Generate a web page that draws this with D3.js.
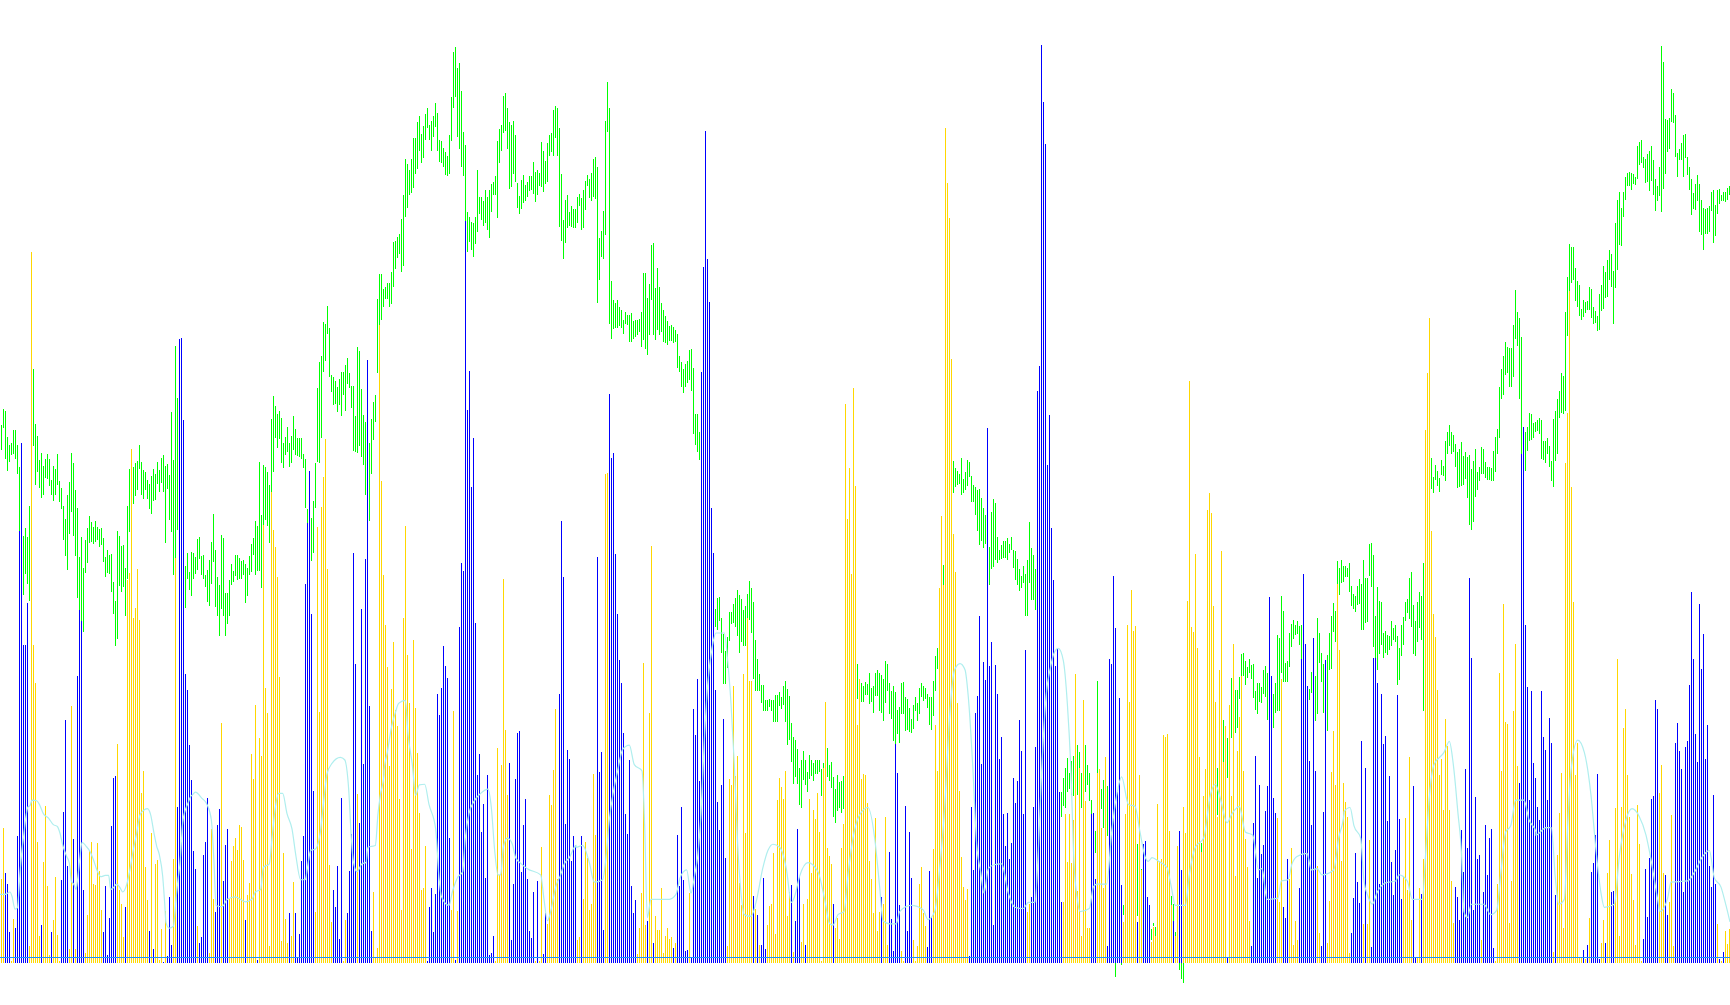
<!DOCTYPE html>
<html><head><meta charset="utf-8">
<script src="https://cdn.jsdelivr.net/npm/d3@7/dist/d3.min.js"></script>
<style>html,body{margin:0;padding:0;background:#fff;overflow:hidden}svg{display:block}</style>
</head><body><svg id="c" width="1730" height="1005"></svg>
<script>
// Volume-style histogram tops. Positive: blue bar, negative: gold bar.
const vol1=[-1387,-1304,1377,1395,1473,-1520,-1452,1467,1317,818,675,1005,1005,936,-1497,-363,-1004,-1067,-1326,-1480,1462,-1359,-1268,-1399,-1511,1473,-1454,-1384,-1478,-1520,1388,1277,1127,1366,-1501,-1104,1321,-1501,1055,948,965,1405,-1508,-1446,-1341,-1326,-1395,-1397,-1328,-1374,-1437,1473,1398,1511,1450,1300,1222,1219,-1166,-1405,-1428,-1482,1433,-898,-887,-684,-960,-944,-880,-963,-1246,-1210,-1367,-1421,1472,-1312,1501,-1362,-1356,-1519,-1468,1522,-1439,1513,1416,1495,-1354,-862,1269,505,503,637,1052,1078,1168,1225];
const vol2=[1341,1370,-1464,1491,1482,1347,1326,1254,-1508,-1305,-1420,1441,1298,1272,-1132,1390,1331,1305,-1420,-1357,-1333,-1320,-1340,-1298,-1302,-1356,1454,-1413,-1393,-1183,-1223,-1102,1519,-1156,-1186,-808,-1075,-1116,-1496,-755,-817,-844,-893,-1057,-1488,-1344,-1452,-1491,1442,-1480,-1392,1442,1514,1477,1358,1316,905,805,720,954,1243,-1441,-812,-1114,-779,-730,-668,-880,-1364,-1457,1405,1432,1365,1485,1254,-1520,-1454,1442,1374,1314,854,1036,-1248,1295,946,1199,864,539,1104,1472,-1408,-1515,-1500,-482,-737,-890];
const vol3=[-972,-1040,-1202,-1076,-1000,-1110,-1137,-1256,-1437,-960,-810,-1021,-1100,-1338,-996,-1107,-1181,-1279,-1405,-1401,-1333,1520,1432,1401,1473,1411,1085,1119,1075,1006,1039,1058,1320,-1437,-1112,1519,-1439,975,871,884,312,621,557,746,666,969,1217,1183,1310,1264,1385,1217,1511,1508,1480,-1520,-1173,-1380,-1200,-897,-1143,-1250,1197,1486,1395,1223,1148,1145,1375,1298,1256,1387,1472,1483,1408,-1520,1390,-1520,-1334,1509,1443,-1460,-1250,-1266,-1209,-1109,-1387,1085,802,893,1297,1176,1190,1357,1316,1332];
const vol4=[-1486,-1481,1316,-1419,-1326,-1352,-1437,-1428,-1215,-1315,861,1212,1179,1470,-726,-724,595,699,691,856,954,1029,1067,1148,1281,1313,1192,1398,1443,1421,-1509,-1467,-1410,-1034,-1462,1455,-1116,-843,1491,-1447,-1470,-1470,-1401,-1508,-1480,-1467,-1485,-1481,1499,-1491,1315,1398,1269,1388,1504,1503,-1410,1515,1109,1151,1060,1227,559,387,165,374,444,781,854,1078,1261,1307,1233,1125,1352,-1496,-1223,-1233,-1071,-1218,-1186,-1393,-1430,-1052,-1312,-960,-1063,-1063,1414,-1436,1445,-1494,1494,1385,1501,-1462];
const vol5=[-1431,-1427,-1344,-1477,-1258,-1222,-1236,-1256,-1210,-1447,-1408,1396,-1506,1455,1305,1384,-1490,-1428,1494,-1419,-1256,-1377,-1274,-1289,-1246,-1310,-1520,-1206,-1098,-1336,-1349,-1362,1428,-1467,-1451,-1485,-1336,-1297,-611,-799,-715,-889,-585,-745,-1135,-1060,-1223,-1216,-1217,-1262,-1357,-1386,-1443,-1287,-1472,-1440,1416,-1428,-1285,-1495,1343,1452,1504,1166,1214,1429,-1505,-1520,1267,1471,1310,1385,-1486,-1520,-1497,-1395,-1367,-1442,-1463,1498,1374,1449,-1338,-1136,-1210,-912,-794,-906,-160,-250,-307,-537,-823,-885,-1100,-1243];
const vol6=[-1351,-1400,-1421,-1403,1512,1269,1372,1115,1088,957,1199,1032,1062,650,1039,1000,1462,1037,1085,1191,1155,1281,1333,1279,1354,1328,1222,1262,1226,1127,1178,1281,1013,-1440,-1428,1416,1269,1171,590,549,24,118,186,710,629,813,898,1039,1011,1245,1424,-1424,-1281,-1359,-1281,-1361,-1291,-1052,-1407,-1206,-1480,-1094,-1259,-1467,-1467,1281,1279,1387,-1214,-1207,-1303,-1401,-1187,1497,1027,1036,892,977,1245,1091,1396,-1457,-1281,-972,-1098,-915,-982,-973,1457,-1217,-1372,1329,1325,1416,1429,-1490];
const vol7=[-1465,-1480,-1264,-1357,-1354,-1151,-1155,-1150,-1308,-1430,1455,-1480,-1333,1308,1372,-1269,-1312,-933,-573,-975,-983,-856,-1009,-1187,-1343,-1251,-1207,-784,-756,-789,-941,-1098,-1285,-1045,-851,-1196,-1137,1515,-1103,-1251,-1003,-1382,-1178,-1122,-1056,-1210,-1321,-1367,-1455,1496,1295,1186,1385,1233,1346,1331,1276,1235,926,1055,1254,1279,-1287,-1424,-1060,1432,1450,1354,-1387,-1336,-1494,-1455,-1486,1401,1027,889,1003,1071,1194,1298,993,1210,-1365,-1475,1496,1277,1029,-1491,-1423,-1212,-1145,-1233,-905,-1013,-1357,-1230];
const vol8=[-1261,-1285,-1507,1475,1418,1344,1392,1426,1161,-1460,1205,-1460,-1323,1498,1026,1026,1067,1395,1085,1166,1153,1292,1218,1359,1413,1339,1086,1289,1419,-1383,-1287,-1405,-1187,-1453,1235,1515,-1515,-1401,1411,-1354,-653,-560,-470,-818,-954,-991,-1078,-1217,-1190,-1274,-1125,-1170,-1274,-1390,-1459,1400,1416,1454,1307,1375,1207,1336,895,1026,1438,1253,1354,1347,-1486,1408,1298,1380,1320,1305,1499,-1520,-1395,-1050,-1210,-938,-1130,-1133,-1459,-1390,-1112,-1003,-1202,1230,693,649,972,1073,1258,1079,1197,1222];
const vol9=[1269,1290,1080,1155,1176,1258,1124,1165,-1506,1413,-1347,-1279,-1214,-1467,-707,-626,-426,-746,-934,-1217,-1165,-1514,-1514,1503,-1518,1494,-1450,1375,1361,1315,1215,1518,-1491,-1454,1491,-1377,-1323,1408,1406,-1271,-1027,-1480,-1269,-1140,-1109,-1217,-1285,-1379,-1421,-1494,-1266,-1330,-1520,1485,1370,1449,1352,1256,1251,1094,1109,-1247,-1200,-1377,1381,1445,-1424,-1282,-1497,1165,1132,1178,1207,1408,1171,1161,1070,918,1027,1150,1196,938,1044,987,1190,1135,1365,1400,1249,1395,-1460,1518,-1520,1506,-1472,-1493,-1468];

// Green high/low pairs per bar (0,0 where the picture hides them).
const green1=[645,686,619,650,622,700,665,720,678,706,675,695,653,693,653,700,678,725,714,818,0,0,827,923,813,889,828,905,778,933,0,0,554,680,643,743,663,722,702,748,691,764,712,759,700,732,692,733,700,745,735,759,712,769,717,759,692,743,737,771,748,782,777,833,798,859,759,882,738,823,691,787,707,826,751,859,781,927,861,949,828,965,879,983,833,887,813,870,794,838,803,836,812,839,802,836,812,833,815,844,813,841,830,869,861,893,849,887,857,888,856,918,901,954,932,1007,818,994,826,908,843,918,841,910,878,958,777,896,717,820,684,735,714,774,707,761,704,751,678,717,705,759,719,766,722,751,735,766,741,782,728,790,717,769,725,767,705,741,719,754,699,740,694,754,712,838,709,750,727,800,624,820,702,890,516,862,601,817,0,0,0,0,0,0,875,944,854,896,885,914,852,924];
const green2=[855,896,861,888,832,882,828,864,860,890,857,897,890,910,882,934,866,941,836,905,791,869,850,943,893,957,906,990,825,946,830,957,920,990,920,970,898,957,872,906,884,902,857,892,857,899,862,897,868,897,866,891,873,936,878,924,860,890,840,885,829,858,802,890,810,884,706,884,792,911,711,808,713,800,722,810,743,838,635,755,598,722,614,666,627,682,623,668,633,708,675,716,665,695,648,690,675,714,663,708,630,686,652,694,667,696,667,698,666,700,693,716,701,780,782,805,800,860,797,868,769,855,707,780,585,705,542,708,533,667,477,559,480,540,451,497,487,566,564,591,566,612,573,611,583,624,570,613,559,630,559,597,548,622,536,578,560,585,581,617,581,688,630,690,518,691,524,680,587,698,629,710,640,760,607,700,675,802,635,725,607,670,596,640,439,560,399,482,399,473,423,452];
const green3=[420,440,414,440,413,453,395,448,347,420,345,390,338,372,333,366,309,395,269,385,211,305,219,290,228,270,210,267,176,258,177,235,150,227,141,198,170,218,157,209,137,179,127,160,155,180,149,197,141,175,119,158,135,197,180,215,181,218,192,224,200,237,206,238,171,236,109,182,36,127,28,109,62,175,54,195,99,224,167,238,188,312,297,362,306,347,314,360,316,370,306,350,229,330,272,301,272,310,279,320,261,315,272,326,262,339,251,297,249,270,238,270,181,307,161,217,155,198,108,168,103,165,127,195,150,260,155,257,148,235,171,248,250,290,271,300,245,292,237,282,253,280,248,273,238,263,238,262,216,268,232,281,228,270,234,254,183,256,197,265,214,252,184,248,171,206,168,200,131,206,124,177,127,206,160,322,235,345,310,374,277,348,269,324,297,320,287,322,292,324,292,324];
const green4=[272,316,268,288,274,327,262,323,247,294,237,255,243,274,234,280,211,272,207,276,224,446,340,408,328,370,296,374,148,335,85,167,127,480,410,505,441,488,446,487,441,487,452,484,458,487,474,497,461,481,466,482,466,510,462,510,475,505,474,502,474,498,472,493,460,518,397,507,397,521,438,531,415,499,351,441,348,499,422,507,388,490,420,498,446,493,457,510,467,512,476,514,483,508,482,508,485,512,490,510,497,552,532,558,542,583,553,593,545,583,541,576,523,571,521,590,552,660,627,678,628,690,656,703,0,0,0,0,0,0,0,0,0,0,0,0,0,0,945,975,928,980,926,965,961,1018,987,1068,1015,1068,992,1042,951,998,951,970,937,968,928,975,915,990,923,1018,930,1000,948,1007,941,1007,921,1000,900,964,912,985,934,1060,996,1080,1027,1080,1052,1080,1070,1100,1070,1112,1095,1113,1094,1112];
const green5=[1092,1106,1095,1112,1094,1131,1086,1131,1086,1131,1081,1105,1089,1109,1071,1103,1064,1130,1076,1168,1088,1160,1132,1196,1155,1231,1160,1220,1175,1232,1205,1266,1193,1271,1178,1225,1193,1234,1212,1245,1184,1224,1192,1218,1198,1226,1192,1216,1192,1215,1192,1212,1207,1252,1197,1235,0,0,1172,1220,1200,1226,1196,1238,1220,1285,1240,1295,1217,1276,1228,1271,1227,1279,1219,1272,0,0,0,0,0,0,0,0,0,0,0,0,1035,1093,0,0,1067,1098,1071,1098,1065,1086,1068,1086,1051,1101,1075,1098,1071,1116,1050,1088,1045,1088,1050,1112,1053,1115,1060,1129,1031,1100,1035,1080,1067,1118,1080,1125,1072,1162,1082,1184,1110,1150,1106,1165,1067,1118,1065,1118,1090,1145,1093,1143,1108,1147,1125,1148,1102,1142,1089,1113,1100,1129,1075,1118,1067,1090,1072,1096,1074,1092,1085,1108,1090,1135,1090,1143,1063,1120,1022,1080,1010,1044,0,0,0,0,874,912,0,0,0,0,0,0,0,0,704,756,715,746,720,744,725,742];
const green6=[699,759,733,757,722,752,702,745,706,730,729,771,744,771,747,792,751,818,750,841,764,834,781,846,792,840,0,0,845,907,787,880,766,877,773,866,828,870,849,866,842,864,835,862,835,862,830,865,840,855,828,850,849,878,851,898,864,906,881,916,892,912,875,903,888,957,866,957,803,903,846,931,857,931,880,948,0,0,0,0,0,0,0,0,0,0,0,0,0,0,0,0,0,0,0,0,0,0,0,0,1245,1285,1221,1268,1206,1270,1189,1245,1213,1240,1194,1250,1186,1252,0,0,1168,1250,1180,1236,1214,1270,1201,1245,1168,1245,1200,1233,1214,1260,1258,1290,0,0,1308,1345,1063,1215,0,0,1240,1272,1225,1303,0,0,1235,1316,0,0,0,0,0,0,1520,1547,0,0,0,0,1515,1527,1429,1445,0,0,0,0,0,0,0,0,0,0,0,0,1329,1447,0,0,1371,1425,0,0,0,0,0,0,0,0,1468,1487];
const green7=[1459,1463,1465,1480,0,0,0,0,0,0,0,0,0,0,0,0,0,0,1414,1430,1428,1455,1473,1508,0,0,1524,1536,1524,1550,1524,1557,0,0,0,0,0,0,0,0,0,0,0,0,0,0,0,0,1328,1343,0,0,0,0,0,0,0,0,0,0,0,0,0,0,1205,1283,0,0,0,0,1127,1196,0,0,1156,1222,0,0,1058,1156,0,0,1078,1148,1078,1140,1057,1092,1019,1058,1018,1055,1030,1070,1040,1058,1027,1050,1037,1060,1036,1091,1080,1110,1067,1118,1066,1098,1073,1100,1045,1085,1039,1090,1050,1127,0,0,1060,1100,1085,1140,1067,1115,988,1113,993,1113,924,1050,949,1065,1034,1065,1031,1065,985,1040,970,1008,963,995,972,988,965,987,973,1005,972,1027,0,0,0,0,0,0,1077,1095,1049,1083,0,0,1055,1128,961,1118,985,1034,1017,1065,1036,1116,0,0,1021,1145,985,1045,957,1043,936,983,949,1000,867,906,879,923,866,903,875,902];
const green8=[875,893,879,893,871,918,908,941,921,945,924,950,909,940,896,938,905,980,866,980,895,968,895,967,840,892,838,910,857,1008,957,1026,910,1045,933,1020,934,1005,985,1026,982,1018,989,1021,990,1012,965,1007,977,997,972,1000,990,1070,1010,1062,972,1023,959,1005,934,965,930,952,895,962,885,975,939,1020,965,1022,934,1000,918,977,925,996,871,1113,0,0,0,0,0,0,699,750,730,756,710,735,720,745,732,755,702,727,712,728,671,737,656,693,645,680,657,692,661,690,676,713,689,748,684,746,673,745,696,743,689,733,698,764,694,808,717,816,704,804,684,762,722,752,714,737,681,725,684,725,706,732,713,735,714,735,716,736,688,736,665,722,652,693,583,667,553,603,532,597,510,563,518,560,519,583,520,583,482,567,425,505,460,516,471,603,501,692,0,0,656,720,648,688,626,672,628,670,642,667,640,657];
const green9=[637,655,634,660,637,700,671,702,671,707,666,692,679,714,704,736,635,747,622,704,603,692,590,633,560,625,565,628,460,622,403,500,350,426,354,414,354,409,389,443,410,452,416,467,455,473,441,468,445,463,443,458,420,458,423,470,452,480,459,478,467,492,432,490,416,459,385,456,395,437,376,436,360,408,366,420,393,480,316,421,278,392,265,352,291,353,264,306,240,278,234,255,232,254,234,261,235,252,240,253,189,244,183,221,180,217,207,226,210,250,203,248,198,263,189,246,212,269,243,296,255,279,224,271,26,298,52,260,145,235,147,200,143,195,96,150,103,152,139,208,201,240,194,212,185,212,171,240,170,209,207,237,224,262,244,302,267,292,252,294,237,280,252,330,278,335,290,360,292,333,290,334,288,330,264,296,262,348,286,336,261,301,260,285,270,280,264,280,265,281,258,278,255,270];

// Pale line samples per panel: position inside the panel, value.
const turq1=[0,1412,15,1412,30,1408,36,1415,45,1436,52,1434,60,1377,66,1339,72,1312,78,1284,84,1269,90,1267,96,1258,110,1259,120,1267,130,1280,145,1287,160,1298,172,1301,180,1312,188,1331,200,1350,208,1361,214,1390,222,1396,228,1404,234,1382,240,1350,246,1327,258,1333,270,1342,280,1355,292,1374,302,1383,316,1381,326,1381,332,1404,340,1401,350,1395,360,1401,368,1408,380,1396,390,1371,400,1339,410,1312,420,1282,430,1275,442,1272,452,1282,462,1312,470,1333,478,1347,488,1382,494,1426,498,1458,508,1467,520,1464,528,1420,534,1388,540,1361,548,1295,556,1274,564,1263,572,1252];
const turq2=[0,1250,10,1245,30,1255,45,1265,58,1290,66,1360,72,1430,90,1432,106,1420,130,1416,160,1424,180,1420,190,1408,206,1404,214,1368,232,1362,240,1320,250,1270,260,1247,272,1247,285,1280,300,1305,312,1350,326,1388,340,1388,346,1370,356,1340,370,1338,385,1310,395,1260,405,1215,420,1198,445,1188,458,1192,470,1240,478,1320,484,1358,495,1375,510,1362,522,1360,528,1335,550,1332,558,1280,565,1250,576,1217];
const turq3=[0,1210,10,1180,22,1140,34,1115,44,1100,64,1095,72,1150,85,1200,95,1250,106,1233,122,1232,135,1265,155,1305,165,1385,172,1415,195,1430,205,1408,220,1385,236,1375,244,1320,255,1280,270,1260,290,1247,312,1240,322,1270,332,1340,342,1380,350,1380,358,1335,370,1320,385,1330,395,1352,412,1362,430,1370,470,1380,480,1420,490,1455,500,1440,515,1400,530,1380,540,1363,556,1352,576,1332];
const turq4=[0,1335,20,1332,40,1360,55,1392,80,1388,92,1340,100,1290,112,1245,125,1210,140,1175,160,1168,175,1200,198,1210,206,1300,214,1450,225,1420,280,1420,300,1412,312,1385,332,1372,345,1410,356,1380,365,1350,375,1280,385,1160,395,1070,408,1010,420,985,445,985,455,1030,465,1100,475,1200,485,1330,495,1410,505,1445,525,1448,540,1425,560,1370,576,1340];
const turq5=[0,1340,15,1330,35,1335,55,1370,70,1425,80,1415,95,1382,120,1360,150,1375,170,1420,185,1460,195,1462,210,1445,228,1440,240,1380,255,1320,272,1285,300,1270,320,1320,335,1400,345,1455,365,1460,385,1460,395,1440,430,1430,465,1437,480,1453,500,1440,515,1370,530,1270,545,1120,560,1045,576,1035];
const turq6=[0,1035,15,1045,25,1090,38,1200,50,1330,62,1375,72,1410,85,1370,100,1364,125,1362,145,1410,165,1433,190,1435,205,1425,225,1425,235,1340,245,1210,258,1090,272,1040,282,1018,295,1010,310,1030,322,1100,332,1200,342,1360,352,1420,360,1440,388,1435,400,1400,410,1395,440,1395,455,1310,470,1250,485,1220,505,1265,525,1268,540,1310,555,1350,565,1358,576,1352];
const turq7=[0,1352,20,1358,45,1368,58,1400,70,1430,100,1430,112,1380,130,1335,155,1320,175,1250,190,1232,205,1255,225,1295,240,1280,262,1268,280,1310,302,1315,320,1372,330,1370,345,1420,378,1418,388,1390,408,1388,420,1362,435,1350,465,1345,478,1372,495,1370,510,1380,545,1372,560,1320,576,1280];
const turq8=[0,1277,18,1270,30,1300,50,1320,60,1390,72,1415,85,1428,100,1408,125,1393,155,1390,165,1380,190,1390,205,1420,235,1420,245,1345,255,1260,270,1200,300,1180,316,1162,328,1200,342,1280,352,1340,360,1440,370,1450,382,1428,420,1428,440,1445,458,1438,470,1380,485,1310,500,1300,515,1258,540,1258,555,1290,576,1310];
const turq9=[0,1315,30,1303,46,1303,58,1385,68,1428,85,1420,95,1300,105,1210,125,1160,145,1180,165,1250,180,1340,195,1410,205,1433,235,1428,250,1350,270,1290,288,1272,310,1285,330,1315,345,1355,365,1420,372,1440,395,1418,405,1392,455,1390,475,1376,500,1350,520,1340,535,1385,555,1400,570,1430,582,1457];

const volPanels=[vol1,vol2,vol3,vol4,vol5,vol6,vol7,vol8,vol9];
const greenPanels=[green1,green2,green3,green4,green5,green6,green7,green8,green9];
const turqPanels=[turq1,turq2,turq3,turq4,turq5,turq6,turq7,turq8,turq9];
const barsPerPanel=96, baseline=1524, zeroLine=1515;

const vols=volPanels.flatMap((p,c)=>p.map((v,j)=>({i:c*barsPerPanel+j,top:Math.abs(v),up:v>0})));
const greens=greenPanels.flatMap((p,c)=>d3.range(0,p.length,2).map(j=>({i:c*barsPerPanel+j/2,hi:p[j],lo:p[j+1]}))).filter(d=>d.hi>0);
const turqs=turqPanels.flatMap((p,c)=>d3.range(0,p.length,2).map(j=>({b:c*barsPerPanel+p[j]/6,v:p[j+1]})));

const x=d3.scaleLinear().domain([0,865]).range([1,1731]);
const y=d3.scaleLinear().domain([0,baseline]).range([30,963]);
const svg=d3.select('#c');
const BLUE='#0000ff',GOLD='#ffd700',GREEN='#00ff00',ZERO='#1e90ff',TURQ='#afeeee';

svg.append('g').attr('shape-rendering','crispEdges').selectAll('rect').data(greens).join('rect')
  .attr('x',d=>x(d.i)).attr('width',1)
  .attr('y',d=>Math.round(y(d.hi))).attr('height',d=>Math.max(1,Math.round(y(d.lo))-Math.round(y(d.hi))))
  .attr('fill',GREEN);
svg.append('g').attr('shape-rendering','crispEdges').selectAll('rect').data(vols).join('rect')
  .attr('x',d=>x(d.i)).attr('width',1)
  .attr('y',d=>Math.round(y(d.top))).attr('height',d=>Math.max(1,Math.round(y(baseline))-Math.round(y(d.top))))
  .attr('fill',d=>d.up?BLUE:GOLD);
svg.append('line').attr('x1',0).attr('x2',1730)
  .attr('y1',Math.round(y(zeroLine))+.5).attr('y2',Math.round(y(zeroLine))+.5)
  .attr('stroke',ZERO).attr('stroke-width',1).attr('shape-rendering','crispEdges');
svg.append('path').datum(turqs)
  .attr('d',d3.line().x(d=>x(d.b)-1).y(d=>y(d.v)).curve(d3.curveMonotoneX))
  .attr('fill','none').attr('stroke',TURQ).attr('stroke-width',1.2);
</script></body></html>
